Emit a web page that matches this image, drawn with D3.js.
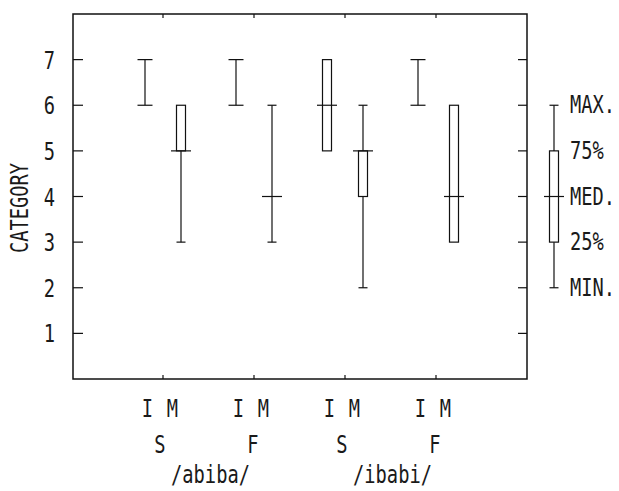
<!DOCTYPE html>
<html>
<head>
<meta charset="utf-8">
<script src="https://cdn.jsdelivr.net/npm/d3@7"></script>
<style>
  body { margin: 0; background: #fff; }
  text { font-family: "DejaVu Sans Mono", monospace; fill: #1a1a1a; }
</style>
</head>
<body>
<script>
// groups along the x axis: word x position, speakers within each group
const words = ["/abiba/", "/ibabi/"],
      positions = ["S", "F"],
      speakers = ["I", "M"],
      groups = ["abiba-S", "abiba-F", "ibabi-S", "ibabi-F"];

// one entry per box: abiba S I, abiba S M, abiba F I, abiba F M, ibabi S I, ibabi S M, ibabi F I, ibabi F M
const minV = [6, 3, 6, 3, 5, 2, 6, 3],
      q1V  = [null, 5, null, 4, 5, 4, null, 3],
      medV = [null, 5, null, 4, 6, 5, null, 4],
      q3V  = [null, 6, null, 4, 7, 5, null, 6],
      maxV = [7, 6, 7, 6, 7, 6, 7, 6];

const yTicks = [1, 2, 3, 4, 5, 6, 7];

// legend box
const legendV = [2, 3, 4, 5, 6],
      legendLabels = ["MIN.", "25%", "MED.", "75%", "MAX."];

const W = 619, H = 491,
      frame = {left: 73, right: 527, top: 14, bottom: 379},
      fs = 24, sx = 0.78;

const y = d3.scaleLinear().domain([0, 8]).range([frame.bottom, frame.top]);
const x = d3.scalePoint().domain(groups).range([163, 436]);
const sub = d3.scalePoint().domain(speakers).range([-18, 18]);
const legendX = 554;

const svg = d3.select("body").append("svg")
    .attr("width", W).attr("height", H)
    .style("background-color", "white");

const ink = "#111";

function label(g, txt, tx, ty, anchor, rot) {
  g.append("text")
    .attr("transform", "translate(" + tx + "," + ty + ")" + (rot ? " rotate(" + rot + ")" : "") + " scale(" + sx + ",1)")
    .attr("text-anchor", anchor || "middle")
    .attr("font-size", fs)
    .text(txt);
}

// frame
svg.append("rect")
    .attr("x", frame.left).attr("y", frame.top)
    .attr("width", frame.right - frame.left).attr("height", frame.bottom - frame.top)
    .attr("fill", "none").attr("stroke", ink).attr("stroke-width", 1.5);

// y ticks on both sides
yTicks.forEach(v => {
  svg.append("line").attr("x1", frame.left).attr("x2", frame.left + 10)
    .attr("y1", y(v)).attr("y2", y(v)).attr("stroke", ink).attr("stroke-width", 1.2);
  svg.append("line").attr("x1", frame.right - 9).attr("x2", frame.right)
    .attr("y1", y(v)).attr("y2", y(v)).attr("stroke", ink).attr("stroke-width", 1.2);
  label(svg, v, 55, y(v) + 9, "end");
});

// x ticks top and bottom
groups.forEach(gname => {
  svg.append("line").attr("x1", x(gname)).attr("x2", x(gname))
    .attr("y1", frame.top).attr("y2", frame.top + 4).attr("stroke", ink).attr("stroke-width", 1.2);
  svg.append("line").attr("x1", x(gname)).attr("x2", x(gname))
    .attr("y1", frame.bottom).attr("y2", frame.bottom - 4).attr("stroke", ink).attr("stroke-width", 1.2);
});

// draw a box plot glyph
function boxGlyph(cx, mn, q1, md, q3, mx) {
  const g = svg.append("g").attr("stroke", ink).attr("stroke-width", 1.2).attr("fill", "none");
  const hasBox = q1 != null && q3 != null && q3 > q1;
  const capW = md == null ? 7.5 : 4.5;
  const lo = hasBox ? q1 : (md != null ? md : mn);
  const hi = hasBox ? q3 : (md != null ? md : mx);
  // whiskers
  if (mn < lo) g.append("line").attr("x1", cx).attr("x2", cx).attr("y1", y(mn)).attr("y2", y(lo));
  if (mx > hi) g.append("line").attr("x1", cx).attr("x2", cx).attr("y1", y(mx)).attr("y2", y(hi));
  if (md == null && !hasBox) g.append("line").attr("x1", cx).attr("x2", cx).attr("y1", y(mn)).attr("y2", y(mx));
  // caps
  if (!hasBox || mn < q1) g.append("line").attr("x1", cx - capW).attr("x2", cx + capW).attr("y1", y(mn)).attr("y2", y(mn));
  if (!hasBox || mx > q3) g.append("line").attr("x1", cx - capW).attr("x2", cx + capW).attr("y1", y(mx)).attr("y2", y(mx));
  // box
  if (hasBox) g.append("rect").attr("x", cx - 4.5).attr("width", 9)
    .attr("y", y(q3)).attr("height", y(q1) - y(q3));
  // median
  if (md != null) g.append("line").attr("x1", cx - 10).attr("x2", cx + 10).attr("y1", y(md)).attr("y2", y(md));
}

minV.forEach((mn, i) => {
  const gname = groups[Math.floor(i / 2)], sp = speakers[i % 2];
  boxGlyph(x(gname) + sub(sp), mn, q1V[i], medV[i], q3V[i], maxV[i]);
});

// legend glyph + labels
boxGlyph(legendX, legendV[0], legendV[1], legendV[2], legendV[3], legendV[4]);
legendV.forEach((v, i) => label(svg, legendLabels[i], 570, y(v) + 8, "start"));

// x labels
groups.forEach((gname, gi) => {
  speakers.forEach((sp, si) => label(svg, sp, x(gname) - 3 + (si ? 12.5 : -12.5), 417, "middle"));
  label(svg, positions[gi % 2], x(gname) - 3 + (gi % 2 ? 2 : 0), 453, "middle");
});
words.forEach((w, wi) => {
  const cx = (x(groups[wi * 2]) + x(groups[wi * 2 + 1])) / 2;
  label(svg, w, cx + 2, 483, "middle");
});

// y axis title
label(svg, "CATEGORY", 28, 208, "middle", -90);
</script>
</body>
</html>
